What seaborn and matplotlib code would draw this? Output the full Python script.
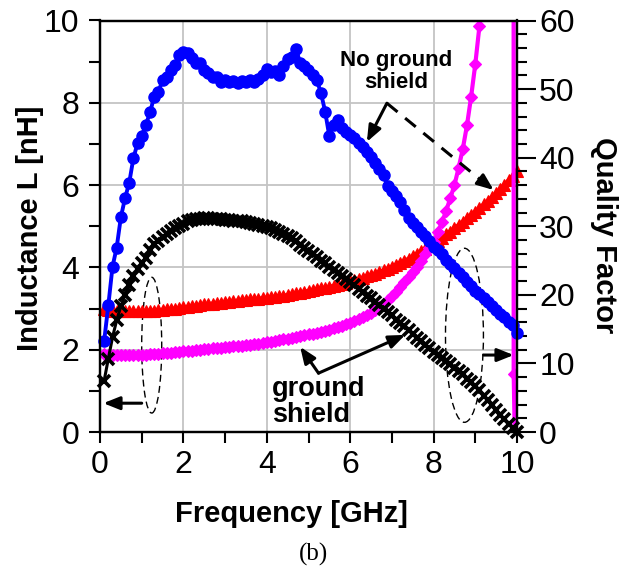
import matplotlib
matplotlib.use("Agg")
import matplotlib.pyplot as plt
import seaborn as sns
import pandas as pd
from matplotlib.ticker import MultipleLocator
from matplotlib.patches import Ellipse

# ---------------- data ----------------
freq = [0.1, 0.2, 0.3, 0.4, 0.5, 0.6, 0.7, 0.8, 0.9, 1.0,
        1.1, 1.2, 1.3, 1.4, 1.5, 1.6, 1.7, 1.8, 1.9, 2.0,
        2.1, 2.2, 2.3, 2.4, 2.5, 2.6, 2.7, 2.8, 2.9, 3.0,
        3.1, 3.2, 3.3, 3.4, 3.5, 3.6, 3.7, 3.8, 3.9, 4.0,
        4.1, 4.2, 4.3, 4.4, 4.5, 4.6, 4.7, 4.8, 4.9, 5.0,
        5.1, 5.2, 5.3, 5.4, 5.5, 5.6, 5.7, 5.8, 5.9, 6.0,
        6.1, 6.2, 6.3, 6.4, 6.5, 6.6, 6.7, 6.8, 6.9, 7.0,
        7.1, 7.2, 7.3, 7.4, 7.5, 7.6, 7.7, 7.8, 7.9, 8.0,
        8.1, 8.2, 8.3, 8.4, 8.5, 8.6, 8.7, 8.8, 8.9, 9.0,
        9.1, 9.2, 9.3, 9.4, 9.5, 9.6, 9.7, 9.8, 9.9, 10.0]

# Quality factor, no ground shield (blue circles, right axis)
q_no_shield = [13.3, 18.5, 24.1, 26.9, 31.3, 34.1, 36.3, 39.9, 42.1, 43.1,
               44.8, 46.6, 48.9, 49.6, 51.3, 51.8, 52.8, 53.5, 55.0, 55.4,
               55.2, 54.5, 53.8, 53.8, 52.8, 52.3, 51.8, 51.8, 51.1, 51.3,
               51.0, 51.2, 50.9, 51.2, 51.0, 51.3, 51.0, 51.4, 52.0, 53.0,
               52.5, 52.6, 52.1, 53.3, 54.4, 54.7, 55.9, 53.8, 53.4, 52.8,
               52.0, 51.3, 49.4, 46.7, 43.1, 44.8, 45.5, 44.3, 43.8, 43.3,
               42.8, 42.2, 41.6, 40.8, 40.1, 39.2, 38.3, 37.5, 35.8, 35.2,
               34.4, 33.6, 32.3, 31.2, 30.5, 29.9, 29.2, 28.6, 27.8, 27.0,
               26.5, 25.9, 25.1, 24.5, 23.9, 23.2, 22.6, 21.9, 21.3, 20.6,
               20.1, 19.5, 19.0, 18.3, 17.8, 17.2, 16.8, 16.0, 15.6, 14.4]

# Quality factor, ground shield (black crosses, right axis)
q_shield = [7.5, 10.7, 13.8, 16.3, 18.3, 20.0, 21.4, 22.7, 23.7, 24.6,
            25.4, 26.5, 27.4, 27.9, 28.4, 28.8, 29.3, 29.8, 30.1, 30.4,
            30.7, 30.9, 31.0, 31.1, 31.2, 31.2, 31.1, 31.1, 31.0, 30.9,
            30.9, 30.8, 30.7, 30.7, 30.6, 30.5, 30.4, 30.2, 30.1, 29.9,
            29.7, 29.5, 29.2, 28.9, 28.6, 28.3, 27.8, 27.3, 26.8, 26.4,
            26.0, 25.5, 25.0, 24.6, 24.1, 23.6, 23.2, 22.8, 22.3, 21.9,
            21.4, 20.9, 20.4, 19.9, 19.5, 19.0, 18.5, 18.0, 17.5, 17.0,
            16.4, 15.9, 15.4, 14.8, 14.3, 13.7, 13.2, 12.7, 12.2, 11.7,
            11.3, 10.8, 10.3, 9.9, 9.4, 8.9, 8.4, 7.8, 7.3, 6.7,
            6.1, 5.3, 4.6, 3.9, 3.2, 2.5, 1.9, 1.2, 0.6, 0.0]

# Inductance, no ground shield (red triangles, left axis)
l_no_shield = [3.00, 2.97, 2.95, 2.94, 2.93, 2.93, 2.93, 2.93, 2.93, 2.94,
               2.94, 2.95, 2.95, 2.96, 2.97, 2.98, 2.99, 3.00, 3.01, 3.03,
               3.04, 3.06, 3.07, 3.08, 3.10, 3.11, 3.12, 3.13, 3.14, 3.16,
               3.17, 3.18, 3.19, 3.20, 3.21, 3.22, 3.23, 3.24, 3.25, 3.26,
               3.27, 3.29, 3.30, 3.31, 3.33, 3.35, 3.37, 3.39, 3.41, 3.43,
               3.45, 3.47, 3.49, 3.51, 3.53, 3.55, 3.58, 3.60, 3.63, 3.66,
               3.69, 3.72, 3.75, 3.78, 3.82, 3.85, 3.89, 3.93, 3.97, 4.02,
               4.06, 4.11, 4.16, 4.21, 4.27, 4.33, 4.39, 4.45, 4.51, 4.58,
               4.65, 4.72, 4.80, 4.87, 4.95, 5.03, 5.11, 5.19, 5.27, 5.35,
               5.44, 5.53, 5.62, 5.71, 5.80, 5.90, 6.01, 6.12, 6.23, 6.35]

# Inductance, ground shield (magenta diamonds, left axis) - resonates near 10 GHz
freq_shield_l = [0.1, 0.2, 0.3, 0.4, 0.5, 0.6, 0.7, 0.8, 0.9, 1.0,
                 1.1, 1.2, 1.3, 1.4, 1.5, 1.6, 1.7, 1.8, 1.9, 2.0,
                 2.1, 2.2, 2.3, 2.4, 2.5, 2.6, 2.7, 2.8, 2.9, 3.0,
                 3.1, 3.2, 3.3, 3.4, 3.5, 3.6, 3.7, 3.8, 3.9, 4.0,
                 4.1, 4.2, 4.3, 4.4, 4.5, 4.6, 4.7, 4.8, 4.9, 5.0,
                 5.1, 5.2, 5.3, 5.4, 5.5, 5.6, 5.7, 5.8, 5.9, 6.0,
                 6.1, 6.2, 6.3, 6.4, 6.5, 6.6, 6.7, 6.8, 6.9, 7.0,
                 7.1, 7.2, 7.3, 7.4, 7.5, 7.6, 7.7, 7.8, 7.9, 8.0,
                 8.1, 8.2, 8.3, 8.4, 8.5, 8.6, 8.7, 8.8, 8.9, 9.0,
                 9.1, 9.2, 9.4, 9.6, 9.8, 9.9, 9.92, 10.0]
l_shield = [1.90, 1.88, 1.87, 1.87, 1.86, 1.86, 1.86, 1.87, 1.87, 1.88,
            1.88, 1.89, 1.90, 1.90, 1.91, 1.92, 1.93, 1.94, 1.95, 1.96,
            1.97, 1.98, 1.99, 2.00, 2.01, 2.02, 2.03, 2.04, 2.05, 2.06,
            2.07, 2.08, 2.09, 2.10, 2.11, 2.12, 2.14, 2.15, 2.16, 2.18,
            2.19, 2.21, 2.23, 2.25, 2.27, 2.29, 2.31, 2.33, 2.35, 2.37,
            2.39, 2.41, 2.43, 2.46, 2.49, 2.52, 2.55, 2.58, 2.62, 2.66,
            2.70, 2.74, 2.79, 2.84, 2.90, 2.97, 3.04, 3.12, 3.20, 3.30,
            3.41, 3.52, 3.64, 3.76, 3.89, 4.02, 4.16, 4.32, 4.48, 4.62,
            4.85, 5.10, 5.37, 5.68, 6.00, 6.42, 6.88, 7.45, 8.15, 8.94,
            9.87, 11.5, 16.0, 25.0, 60.0, 150.0, 1.4, -3.0]

x_ticks = [0, 2, 4, 6, 8, 10]
yl_ticks = [0, 2, 4, 6, 8, 10]
yr_ticks = [0, 10, 20, 30, 40, 50, 60]

# ---------------- figure ----------------
sns.set_style("ticks", rc={"text.color": "black", "axes.labelcolor": "black",
                           "xtick.color": "black", "ytick.color": "black",
                           "axes.edgecolor": "black"})
plt.rcParams["font.family"] = ["Liberation Sans", "DejaVu Sans"]

W, H = 626, 581
fig = plt.figure(figsize=(W / 100, H / 100), dpi=100)
x0, x1, y0, y1 = 100, 517, 432, 20.5
ax = fig.add_axes([x0 / W, 1 - y0 / H, (x1 - x0) / W, (y0 - y1) / H])
ax2 = ax.twinx()

df_red = pd.DataFrame({"f": freq, "L": l_no_shield})
df_mag = pd.DataFrame({"f": freq_shield_l, "L": l_shield})
df_blue = pd.DataFrame({"f": freq, "Q": q_no_shield})
df_black = pd.DataFrame({"f": freq, "Q": q_shield})

sns.lineplot(data=df_red, x="f", y="L", ax=ax, color="#ff0000", marker="^",
             markersize=8, markeredgecolor="#ff0000", markeredgewidth=0.8,
             linewidth=3, estimator=None, errorbar=None, sort=False, clip_on=False)
sns.lineplot(data=df_mag, x="f", y="L", ax=ax, color="#ff00ff", marker="D",
             markersize=6, markeredgecolor="#ff00ff", markeredgewidth=0.8,
             linewidth=3.0, estimator=None, errorbar=None, sort=False)
sns.lineplot(data=df_black, x="f", y="Q", ax=ax2, color="black", marker="x",
             markersize=8.5, markeredgecolor="black", markeredgewidth=2.6,
             linewidth=2.2, estimator=None, errorbar=None, sort=False, clip_on=False)
sns.lineplot(data=df_blue, x="f", y="Q", ax=ax2, color="#0000ff", marker="o",
             markersize=8, markeredgecolor="#0000ff", markeredgewidth=1.0,
             linewidth=2.8, estimator=None, errorbar=None, sort=False, clip_on=False)

ax.set_xlim(0, 10)
ax.set_ylim(0, 10)
ax2.set_ylim(0, 60)
ax.set_xticks(x_ticks)
ax.set_yticks(yl_ticks)
ax2.set_yticks(yr_ticks)
ax.xaxis.set_minor_locator(MultipleLocator(1))
ax.yaxis.set_minor_locator(MultipleLocator(1))
ax2.yaxis.set_minor_locator(MultipleLocator(2))
ax.set_xlabel("")
ax.set_ylabel("")
ax2.set_ylabel("")

ax.grid(True, which="major", color="#c4c4c4", linewidth=1.3)
ax.set_axisbelow(True)

ax.tick_params(axis="both", which="both", direction="out", length=8, width=1.5,
               color="black", labelsize=23, labelcolor="black")
ax.tick_params(axis="y", pad=7)
ax.tick_params(axis="x", pad=5)
ax2.tick_params(axis="y", which="major", direction="out", length=14, width=1.5,
                labelsize=23, pad=2, color="black", labelcolor="black")
ax2.tick_params(axis="y", which="minor", direction="out", length=7, width=1.5,
                color="black")
for a in (ax, ax2):
    for s in a.spines.values():
        s.set_color("black")
        s.set_linewidth(1.6)

# ---------------- annotations ----------------
head = "-|>,head_length=0.7,head_width=0.28"


def arrow(p_from, p_to, lw=2.2):
    ax.annotate("", xy=p_to, xytext=p_from,
                arrowprops=dict(arrowstyle=head, color="black", lw=lw,
                                shrinkA=0, shrinkB=0, mutation_scale=14))


# "No ground shield"
ax.text(7.10, 8.77, "No ground\nshield", ha="center", va="center",
        fontsize=16, fontweight="bold", linespacing=1.05, color="black")
arrow((6.88, 7.99), (6.40, 7.05))
ax.plot([6.88, 9.28], [7.99, 6.00], color="black", lw=2.2, ls=(0, (4.5, 3.2)),
        solid_capstyle="butt")
arrow((9.25, 6.03), (9.44, 5.88))

# "ground shield"
ax.text(4.13, 0.72, "ground\nshield", ha="left", va="center",
        fontsize=19.5, fontweight="bold", linespacing=1.0, color="black")
arrow((5.24, 1.43), (4.80, 2.07))
arrow((5.24, 1.43), (7.32, 2.36))

# axis indicator ellipses and arrows
ax.add_patch(Ellipse((1.24, 2.11), 0.48, 3.30, fill=False, edgecolor="black",
                     lw=1.0, ls=(0, (5, 3))))
ax.add_patch(Ellipse((8.74, 2.35), 0.91, 4.23, fill=False, edgecolor="black",
                     lw=1.0, ls=(0, (5, 3))))
arrow((1.0, 0.70), (0.08, 0.70))
arrow((9.2, 1.87), (9.92, 1.87))

# ---------------- labels ----------------
fig.text(30 / W, 1 - 228 / H, "Inductance L [nH]", rotation=90, ha="center",
         va="center", fontsize=21, fontweight="bold", color="black")
fig.text(604 / W, 1 - 235 / H, "Quality Factor", rotation=-90, ha="center",
         va="center", fontsize=21, fontweight="bold", color="black")
fig.text(291 / W, 1 - 514 / H, "Frequency [GHz]", ha="center", va="center",
         fontsize=21, fontweight="bold", color="black")
fig.text(313 / W, 1 - 554 / H, "(b)", ha="center", va="center", fontsize=18,
         family=["Liberation Serif", "DejaVu Serif"], color="black")

fig.savefig("out.png", dpi=100)
